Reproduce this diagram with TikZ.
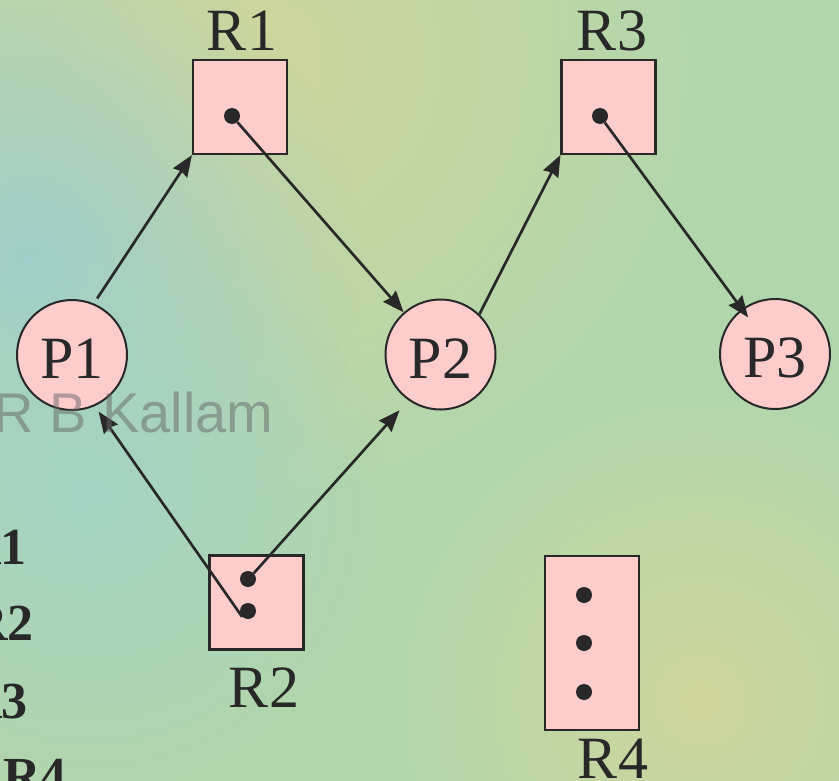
\documentclass[tikz,border=0pt]{standalone}
\usepackage{fontspec}
\setmainfont{Liberation Serif}
\newfontfamily\wmfont{Liberation Sans}
\usetikzlibrary{arrows.meta,fadings}

\definecolor{bggreen}{RGB}{178,214,172}
\definecolor{bgyellow}{RGB}{208,214,156}
\definecolor{bgblue}{RGB}{160,206,202}
\definecolor{bgteal}{RGB}{165,212,196}
\definecolor{boxpink}{RGB}{255,204,204}
\definecolor{ink}{RGB}{40,40,40}

% soft round blob for the background tints
\tikzfading[name=blobfade, inner color=transparent!0, outer color=transparent!100]

\begin{document}
\begin{tikzpicture}[x=0.75pt,y=-0.75pt,
  res/.style={draw=ink, line width=1.6pt, fill=boxpink, minimum width=70.5pt,
              minimum height=70.5pt, inner sep=0pt},
  proc/.style={circle, draw=ink, line width=1.5pt, fill=boxpink, minimum size=82.5pt,
               inner sep=0pt, font=\fontsize{45}{54}\selectfont, text=ink},
  plabel/.style={yshift=-3pt},
  tok/.style={circle, fill=ink, minimum size=12pt, inner sep=0pt},
  lbl/.style={font=\fontsize{45}{54}\selectfont, text=ink, inner sep=0pt, anchor=base},
  side/.style={font=\bfseries\fontsize{39}{46}\selectfont, text=ink, inner sep=0pt},
  edge/.style={draw=ink, line width=2pt, -{Stealth[length=16pt,width=12.5pt,inset=1.5pt]}},
]
\useasboundingbox (0,0) rectangle (839,781);
\clip (0,0) rectangle (839,781);

% background
\fill[bggreen] (0,0) rectangle (839,781);
\fill[bgyellow, path fading=blobfade] (260,60) circle (330pt);
\fill[bgblue, path fading=blobfade] (30,260) circle (250pt);
\fill[bgteal, path fading=blobfade] (90,500) circle (220pt);
\fill[bgyellow, path fading=blobfade] (700,700) circle (230pt);

% resources
\node[res] (R1) at (240,107) {};
\node[res] (R3) at (608.5,107) {};
\node[res] (R2) at (256.5,602.5) {};
\node[res, minimum height=130.5pt] (R4) at (592,643) {};

% processes
\node[proc] (P1) at (72,355) {};
\node[proc] (P2) at (440.5,354.5) {};
\node[proc] (P3) at (775,354) {};
\node[proc, draw=none, fill=none, plabel] (P1t) at (P1) {P1};
\node[proc, draw=none, fill=none, plabel] (P2t) at (P2) {P2};
\node[proc, draw=none, fill=none, plabel] (P3t) at (P3) {P3};

% resource instances
\node[tok] (t1) at (232,116) {};
\node[tok] (t3) at (600,116) {};
\node[tok] (t2a) at (248,579) {};
\node[tok] (t2b) at (248,611) {};
\node[tok] (t4a) at (584,595) {};
\node[tok] (t4b) at (584,643) {};
\node[tok] (t4c) at (584,692) {};

% resource labels
\node[lbl] (L1) at (242,51) {R1};
\node[lbl] (L3) at (612,51) {R3};
\node[lbl] (L2) at (264,707) {R2};
\node[lbl] (L4) at (613,778) {R4};

% requests and assignments
\draw[edge, shorten <=4.5pt] (P1.67) -- (R1.south west);
\draw[edge] (t1) -- (P2);
\draw[edge] (P2.46) -- (R3.south west);
\draw[edge, shorten >=-8pt] (t3) -- (P3);
\draw[edge, shorten >=5pt] (t2b.225) -- (P1.-66);
\draw[edge, shorten >=10pt] (t2a.45) -- (P2.235);

% text at the left edge
\node[side, anchor=base east] (s1) at (27,564) {R1};
\node[side, anchor=base east] (s2) at (34,640) {R2};
\node[side, anchor=base east] (s3) at (28,718) {R3};
\node[side, anchor=base west] (s4) at (3,793) {R4};

% author mark
\node[font=\wmfont\fontsize{42}{50}\selectfont, text=gray!80!black, opacity=0.5,
      anchor=base west, inner sep=0pt] (wm) at (-7,432) {R B Kallam};
\end{tikzpicture}
\end{document}
